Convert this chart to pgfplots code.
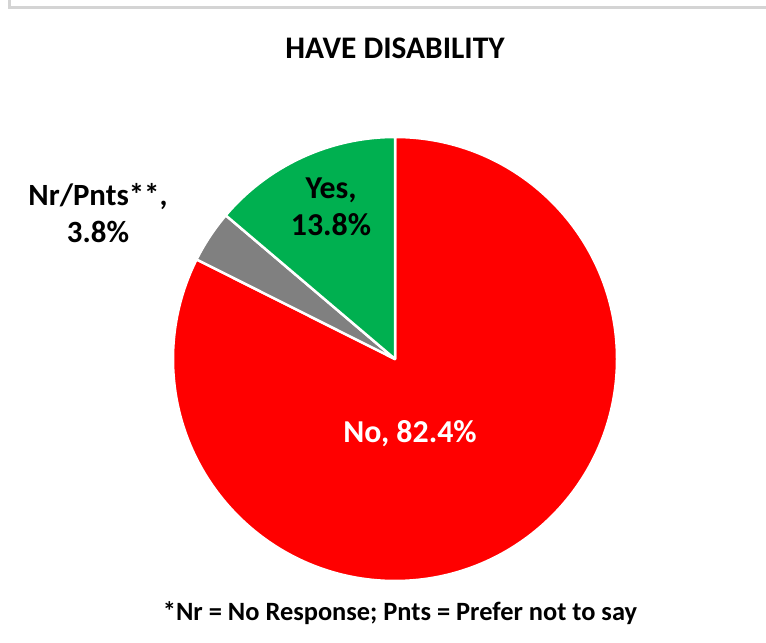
\documentclass[border=0pt]{standalone}
\usepackage{pgfplots}
\usepackage{pgfplotstable}
\pgfplotsset{compat=1.18}
\usepackage{fontspec}
\setmainfont{Carlito}
\definecolor{pieRed}{HTML}{FF0000}
\definecolor{pieGreen}{HTML}{00B050}
\definecolor{pieGray}{HTML}{808080}
\definecolor{frameGray}{HTML}{D4D4D4}

\pgfplotstableread{
label value
No 82.4
Nr 3.8
Yes 13.8
}\piedata

\pgfplotstablegetelem{0}{value}\of\piedata \let\vNo\pgfplotsretval
\pgfplotstablegetelem{1}{value}\of\piedata \let\vNr\pgfplotsretval
\pgfplotstablegetelem{2}{value}\of\piedata \let\vYes\pgfplotsretval
\pgfmathsetmacro{\aA}{90}
\pgfmathsetmacro{\aB}{\aA-3.6*\vNo}
\pgfmathsetmacro{\aC}{\aB-3.6*\vNr}
\pgfmathsetmacro{\aD}{\aC-3.6*\vYes}

\begin{document}
\begin{tikzpicture}
\begin{axis}[
  at={(0,0)}, anchor=south west,
  scale only axis, width=766bp, height=643bp,
  xmin=0, xmax=766, ymin=0, ymax=643,
  hide axis, clip=false,
]
% frame
\draw[frameGray, line width=2.8bp] (axis cs:9.5,660) -- (axis cs:9.5,635.5) -- (axis cs:780,635.5);
% slices
\filldraw[fill=pieRed, draw=white, line width=2.5bp, line join=round]
  (axis cs:395,284) -- ++(\aA:222bp) arc[start angle=\aA, end angle=\aB, radius=222bp] -- cycle;
\filldraw[fill=pieGray, draw=white, line width=2.5bp, line join=round]
  (axis cs:395,284) -- ++(\aB:222bp) arc[start angle=\aB, end angle=\aC, radius=222bp] -- cycle;
\filldraw[fill=pieGreen, draw=white, line width=2.5bp, line join=round]
  (axis cs:395,284) -- ++(\aC:222bp) arc[start angle=\aC, end angle=\aD, radius=222bp] -- cycle;
% labels
\node[font=\fontsize{31.5}{37}\selectfont\bfseries] at (axis cs:395,595) {HAVE DISABILITY};
\node[font=\fontsize{32}{38}\selectfont\bfseries, white] at (axis cs:410,209) {No, \vNo\%};
\node[font=\fontsize{32}{37}\selectfont\bfseries, align=center] at (axis cs:331,436) {Yes,\\\vYes\%};
\node[font=\fontsize{31}{37}\selectfont\bfseries, align=center] at (axis cs:98,430) {Nr/Pnts**,\\\vNr\%};
\node[font=\fontsize{26.5}{30}\selectfont\bfseries] at (axis cs:400,30) {*Nr = No Response; Pnts = Prefer not to say};
\end{axis}
\pgfresetboundingbox
\useasboundingbox (0,0) rectangle (766bp,643bp);
\end{tikzpicture}
\end{document}
